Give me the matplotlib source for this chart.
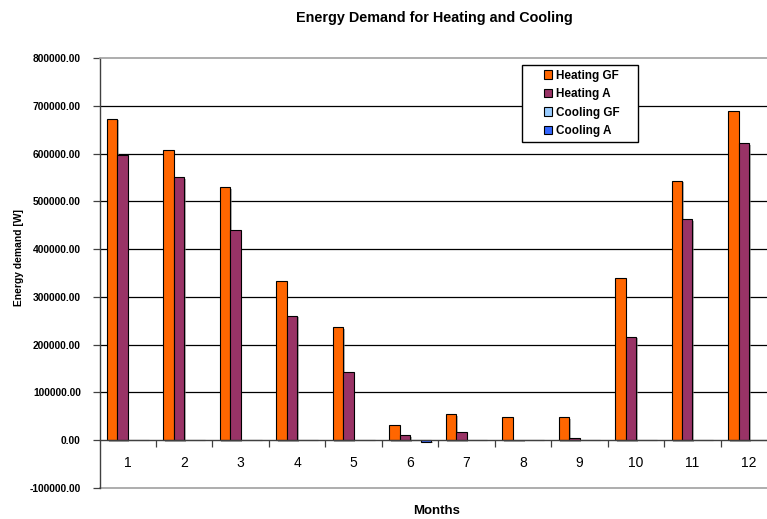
import matplotlib
matplotlib.use("Agg")
import matplotlib.pyplot as plt
import matplotlib.patheffects as pe
from matplotlib.patches import Rectangle
from matplotlib.ticker import FixedLocator, FuncFormatter
import numpy as np

plt.rcParams['font.family'] = ['Liberation Sans', 'DejaVu Sans']

months = ["1", "2", "3", "4", "5", "6", "7", "8", "9", "10", "11", "12"]
heating_gf = [673000, 608000, 530000, 334000, 236000, 32000, 55000, 48500, 48500, 339000, 543000, 690000]
heating_a = [596000, 551000, 440000, 261000, 142000, 11000, 17000, 1500, 5600, 217000, 462500, 622000]
cooling_gf = [0, 0, 0, 0, 0, 0, 0, 0, 0, 0, 0, 0]
cooling_a = [0, 0, 0, 0, 0, -3000, 0, 0, 0, 0, 0, 0]

series = [
    ("Heating GF", heating_gf, "#FF6600"),
    ("Heating A", heating_a, "#993366"),
    ("Cooling GF", cooling_gf, "#99CCFF"),
    ("Cooling A", cooling_a, "#3366FF"),
]

W, H = 767, 519
fig = plt.figure(figsize=(W / 100, H / 100), dpi=100)
left, right, top, bottom = 99.5, 777.2, 58, 488
ax = fig.add_axes([left / W, 1 - bottom / H, (right - left) / W, (bottom - top) / H])

x = np.arange(len(months))
bw = 0.185
shadow = [pe.SimplePatchShadow(offset=(1.2, -1.2), shadow_rgbFace="#808080", alpha=0.6), pe.Normal()]
handles = []
for i, (name, vals, col) in enumerate(series):
    bars = ax.bar(x + (i - 1.5) * bw, vals, bw, color=col, edgecolor="black",
                  linewidth=0.8, label=name, zorder=3)
    for b in bars:
        b.set_path_effects(shadow)
    handles.append(bars)

ax.set_xlim(-0.5, len(months) - 0.5)
ax.set_ylim(-100000, 800000)

# horizontal gridlines
for v in range(100000, 800000, 100000):
    ax.axhline(v, color="black", linewidth=0.9, zorder=1)
ax.axhline(-100000, color="#A0A0A0", linewidth=1.2, zorder=1, clip_on=False)

ax.spines['top'].set_color("#A0A0A0")
ax.spines['top'].set_linewidth(1.2)
ax.spines['right'].set_visible(False)
ax.spines['left'].set_color("#404040")
ax.spines['left'].set_linewidth(1.0)
ax.spines['bottom'].set_position(('data', 0))
ax.spines['bottom'].set_color("#404040")
ax.spines['bottom'].set_linewidth(1.0)
ax.spines['bottom'].set_zorder(4)

yt = list(range(-100000, 800001, 100000))
ax.yaxis.set_major_locator(FixedLocator(yt))
ax.yaxis.set_major_formatter(FuncFormatter(lambda v, p: f"{v:.2f}"))
ax.tick_params(axis='y', direction='out', length=5, width=0.9, color="#404040",
               labelsize=7.4, pad=8.5)
for t in ax.get_yticklabels():
    t.set_fontweight('bold')

ax.set_xticks(x)
ax.set_xticklabels(months)
ax.set_xticks(np.arange(0.5, len(months) - 0.5, 1.0), minor=True)
ax.tick_params(axis='x', which='major', length=0, labelsize=10, pad=11.5)
ax.tick_params(axis='x', which='minor', direction='out', length=5, width=0.9, color="#404040")

fig.text(434 / W, 1 - 22.3 / H, "Energy Demand for Heating and Cooling",
         ha='center', va='baseline', fontsize=10.4, fontweight='bold')
fig.text(19 / W, 1 - 258 / H, "Energy demand [W]", rotation=90,
         ha='center', va='center', fontsize=7.4, fontweight='bold')
fig.text(437 / W, 1 - 511 / H, "Months", ha='center', va='center',
         fontsize=9.5, fontweight='bold')

# legend frame drawn separately for wider side padding
fig.patches.append(Rectangle((521.7 / W, 1 - 141.7 / H), (638 - 521.7) / W, (141.7 - 65) / H,
                             transform=fig.transFigure, facecolor="white",
                             edgecolor="black", linewidth=1.0, zorder=5))
leg = fig.legend(handles=handles, labels=[s[0] for s in series],
                 loc='center left', bbox_to_anchor=(543.5 / W, 1 - 103.4 / H),
                 fontsize=8.5, frameon=False, borderaxespad=0, borderpad=0,
                 handlelength=0.7, handleheight=0.7, handletextpad=0.35,
                 labelspacing=0.55)
leg.set_zorder(6)
for t in leg.get_texts():
    t.set_fontweight('bold')
for h in leg.legend_handles:
    h.set_path_effects([])

fig.savefig("out.png", dpi=100)
